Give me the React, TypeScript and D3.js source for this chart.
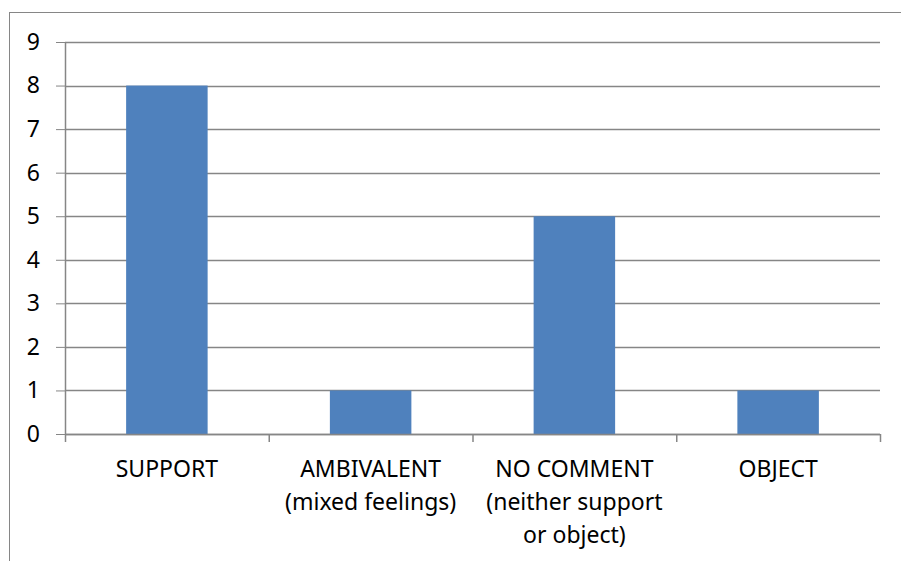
import React, { useRef, useEffect } from "react";
import * as d3 from "d3";

// categories (each label split over its lines) and counts
const categories: string[] = ["SUPPORT", "AMBIVALENT", "NO COMMENT", "OBJECT"];
const categoryLines: string[][] = [
  ["SUPPORT"],
  ["AMBIVALENT", "(mixed feelings)"],
  ["NO COMMENT", "(neither support", "or object)"],
  ["OBJECT"],
];
const counts: number[] = [8, 1, 5, 1];
const yTicks: number[] = [0, 1, 2, 3, 4, 5, 6, 7, 8, 9];

const W = 901;
const H = 561;

const Chart: React.FC = () => {
  const ref = useRef<SVGSVGElement | null>(null);

  useEffect(() => {
    if (!ref.current) return;
    const svg = d3.select(ref.current);
    svg.selectAll("*").remove();

    const margin = { top: 42, right: 21, bottom: 127, left: 65 };
    const width = W - margin.left - margin.right;
    const height = H - margin.top - margin.bottom;
    const grey = "#868686";
    const font = "'Noto Sans', 'Open Sans', sans-serif";

    // outer chart-area border (runs off the right and bottom edges)
    svg.append("rect")
      .attr("x", 9.5).attr("y", 12.5)
      .attr("width", W + 20).attr("height", H + 20)
      .attr("fill", "none").attr("stroke", grey).attr("stroke-width", 1);

    const g = svg.append("g").attr("transform", `translate(${margin.left},${margin.top})`);

    const x = d3.scaleBand<string>()
      .domain(categories)
      .range([0, width])
      .paddingInner(0.6)
      .paddingOuter(0.3);

    const y = d3.scaleLinear().domain([0, 9]).range([height, 0]);

    // horizontal gridlines + y ticks
    const yAxis = g.append("g")
      .call(d3.axisLeft(y).tickValues(yTicks).tickSize(9).tickFormat(d3.format("d")).tickPadding(16));
    yAxis.select(".domain").remove();
    yAxis.selectAll(".tick line").attr("stroke", grey);
    yAxis.selectAll(".tick text")
      .attr("fill", "#000").attr("font-family", font).attr("font-size", 23);

    g.append("g").selectAll("line")
      .data(yTicks)
      .join("line")
      .attr("x1", 0).attr("x2", width)
      .attr("y1", d => Math.round(y(d)) + 0.5).attr("y2", d => Math.round(y(d)) + 0.5)
      .attr("stroke", grey).attr("stroke-width", 1.5);

    // bars
    g.append("g").selectAll("rect")
      .data(counts)
      .join("rect")
      .attr("x", (_, i) => x(categories[i])!)
      .attr("width", x.bandwidth())
      .attr("y", d => y(d))
      .attr("height", d => height - y(d))
      .attr("fill", "#4F81BD");

    // y axis line
    g.append("line")
      .attr("x1", 0.5).attr("x2", 0.5).attr("y1", 0).attr("y2", height)
      .attr("stroke", grey).attr("stroke-width", 1.5);

    // x axis with ticks between categories
    const step = width / categories.length;
    const xAxis = g.append("g").attr("transform", `translate(0,${height})`);
    xAxis.append("line")
      .attr("x1", 0).attr("x2", width).attr("y1", 0.5).attr("y2", 0.5)
      .attr("stroke", grey).attr("stroke-width", 1.5);
    xAxis.selectAll("line.tk")
      .data(d3.range(categories.length + 1))
      .join("line")
      .attr("class", "tk")
      .attr("x1", d => d * step + 0.5).attr("x2", d => d * step + 0.5)
      .attr("y1", 0).attr("y2", 8)
      .attr("stroke", grey).attr("stroke-width", 1.5);

    const labels = xAxis.selectAll("text")
      .data(categoryLines)
      .join("text")
      .attr("text-anchor", "middle")
      .attr("font-family", font)
      .attr("font-size", 23)
      .attr("fill", "#000")
      .attr("transform", (_, i) => `translate(${x(categories[i])! + x.bandwidth() / 2},43)`);
    labels.selectAll("tspan")
      .data(d => d)
      .join("tspan")
      .attr("x", 0)
      .attr("y", (_, j) => j * 33)
      .text(d => d);
  }, []);

  return <svg ref={ref} width={W} height={H} style={{ display: "block" }} />;
};

export default function App() {
  return (
    <div style={{ position: "absolute", left: 0, top: 0, width: W, height: H, background: "#fff" }}>
      <Chart />
    </div>
  );
}
